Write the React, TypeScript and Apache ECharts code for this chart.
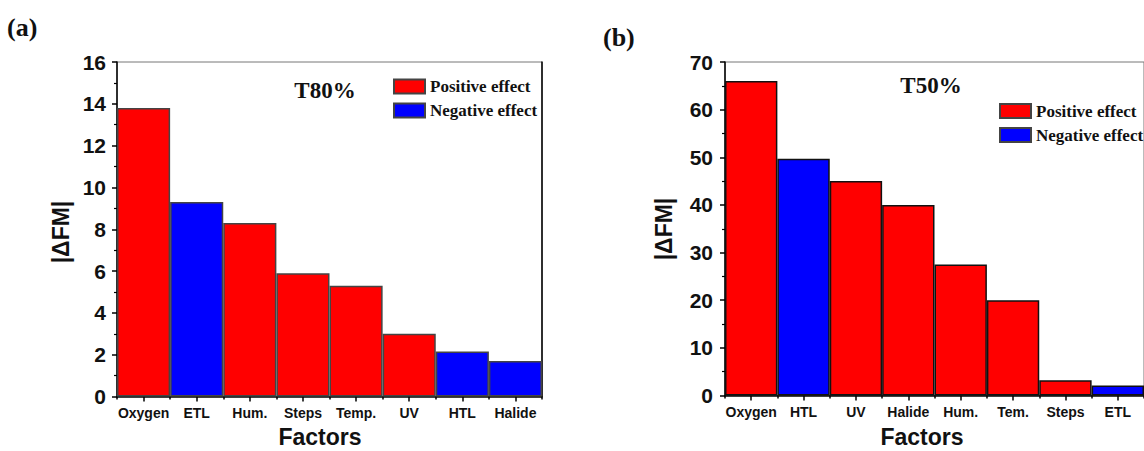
import React, { useEffect, useRef } from "react";
import * as echarts from "echarts";

const catsA = ["Oxygen", "ETL", "Hum.", "Steps", "Temp.", "UV", "HTL", "Halide"];
const valsA = [13.8, 9.3, 8.3, 5.9, 5.3, 3.0, 2.15, 1.7];
const effA = ["pos", "neg", "pos", "pos", "pos", "pos", "neg", "neg"];

const catsB = ["Oxygen", "HTL", "UV", "Halide", "Hum.", "Tem.", "Steps", "ETL"];
const valsB = [66, 49.7, 45, 40, 27.5, 20, 3.2, 2.1];
const effB = ["pos", "neg", "pos", "pos", "pos", "pos", "pos", "neg"];

const ticksA = [0, 16, 2];
const ticksB = [0, 70, 10];

const SANS = "'Liberation Sans', Arial, sans-serif";
const SERIF = "'Liberation Serif', 'Times New Roman', serif";
const RED = "#ff0000";
const BLUE = "#0000ff";

export default function App() {
  const ref = useRef<HTMLDivElement>(null);
  useEffect(() => {
    if (!ref.current) return;
    const chart = echarts.init(ref.current, null, { renderer: "svg" });

    const pick = (vals: number[], eff: string[], k: string) =>
      vals.map((v, i) => (eff[i] === k ? v : "-"));

    const mainX = (cats: string[], gridIndex: number) => ({
      type: "category",
      gridIndex,
      data: cats,
      position: "bottom",
      boundaryGap: true,
      axisLine: { show: true, lineStyle: { color: "#000", width: 1.5 } },
      axisTick: { show: true, alignWithLabel: true, length: 5, lineStyle: { color: "#000", width: 1.5 } },
      axisLabel: { margin: 9, color: "#111", fontFamily: SANS, fontSize: 14, fontWeight: "bold", interval: 0 },
      splitLine: { show: false },
    });
    const minorX = (cats: string[], gridIndex: number) => ({
      type: "category",
      gridIndex,
      data: cats,
      position: "bottom",
      boundaryGap: true,
      axisLine: { show: false },
      axisTick: { show: true, alignWithLabel: false, length: 3, interval: 0, lineStyle: { color: "#000", width: 1.5 } },
      axisLabel: { show: false },
      splitLine: { show: false },
    });
    const leftY = (t: number[], gridIndex: number, margin: number) => ({
      type: "value",
      gridIndex,
      min: t[0],
      max: t[1],
      interval: t[2],
      axisLine: { show: true, lineStyle: { color: "#000", width: 1.5 } },
      axisTick: { show: true, length: 5, lineStyle: { color: "#000", width: 1.5 } },
      minorTick: { show: true, splitNumber: 2, length: 3, lineStyle: { color: "#000", width: 1.2 } },
      axisLabel: { margin, color: "#111", fontFamily: SANS, fontSize: 21, fontWeight: "bold" },
      splitLine: { show: false },
    });

    const seriesFor = (vals: number[], eff: string[], xi: number, yi: number, border: string, borderNeg: string) => [
      {
        name: "Positive effect",
        type: "bar",
        xAxisIndex: xi,
        yAxisIndex: yi,
        data: pick(vals, eff, "pos"),
        barWidth: "100%",
        barGap: "-100%",
        itemStyle: { color: RED, borderColor: border, borderWidth: 1.5 },
      },
      {
        name: "Negative effect",
        type: "bar",
        xAxisIndex: xi,
        yAxisIndex: yi,
        data: pick(vals, eff, "neg"),
        barWidth: "100%",
        barGap: "-100%",
        itemStyle: { color: BLUE, borderColor: borderNeg, borderWidth: 1.5 },
      },
    ];

    const legendFor = (left: number, top: number) => ({
      show: true,
      orient: "vertical",
      left,
      top,
      itemWidth: 31,
      itemHeight: 14,
      itemGap: 7,
      icon: "rect",
      align: "left",
      data: ["Positive effect", "Negative effect"],
      textStyle: { fontFamily: SERIF, fontSize: 17, fontWeight: "bold", color: "#111" },
      selectedMode: false,
    });

    const txt = (text: string, x: number, y: number, font: string, align = "center", rotation = 0) => ({
      type: "text",
      x,
      y,
      rotation,
      silent: true,
      style: { text, font, fill: "#111", textAlign: align, textVerticalAlign: "middle" },
    });

    const option: any = {
      animation: false,
      backgroundColor: "#fff",
      grid: [
        { left: 117, top: 62, width: 425, height: 334.5, show: true, borderColor: "#777", borderWidth: 1, backgroundColor: "transparent" },
        { left: 725, top: 62, width: 424, height: 333.5, show: true, borderColor: "#777", borderWidth: 1, backgroundColor: "transparent" },
      ],
      xAxis: [mainX(catsA, 0), minorX(catsA, 0), mainX(catsB, 1), minorX(catsB, 1)],
      yAxis: [
        leftY(ticksA, 0, 11),
        {
          type: "value",
          gridIndex: 0,
          position: "right",
          min: ticksA[0],
          max: ticksA[1],
          interval: ticksA[2],
          axisLine: { show: true, lineStyle: { color: "#000", width: 1.5 } },
          axisTick: { show: false },
          axisLabel: { show: false },
          splitLine: { show: false },
        },
        leftY(ticksB, 1, 12),
      ],
      legend: [legendFor(388, 73), legendFor(994, 97.5)],
      series: [
        ...seriesFor(valsA, effA, 0, 0, "#444", "#444"),
        ...seriesFor(valsB, effB, 2, 2, "#111", "#111"),
      ],
      graphic: [
        txt("(a)", 7, 27, `bold 26px ${SERIF}`, "left"),
        txt("(b)", 603, 37, `bold 26px ${SERIF}`, "left"),
        txt("T80%", 325, 90, `bold 23px ${SERIF}`),
        txt("T50%", 931, 85, `bold 23px ${SERIF}`),
        txt("|\u0394FM|", 61, 232, `bold 23px ${SANS}`, "center", Math.PI / 2),
        txt("|\u0394FM|", 664, 229, `bold 23px ${SANS}`, "center", Math.PI / 2),
        txt("Factors", 320, 437, `bold 23px ${SANS}`),
        txt("Factors", 922, 437, `bold 23px ${SANS}`),
      ],
    };
    chart.setOption(option);
    return () => chart.dispose();
  }, []);
  return (
    <div
      ref={ref}
      style={{ position: "fixed", left: 0, top: 0, width: 1144, height: 451, background: "#fff" }}
    />
  );
}
